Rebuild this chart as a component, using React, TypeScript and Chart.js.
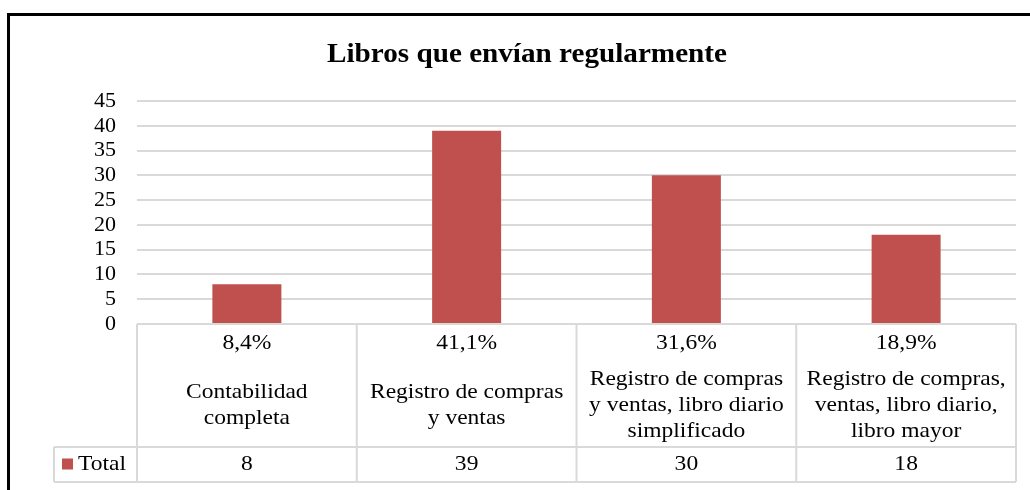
import React, { useEffect, useRef } from "react";
import { Chart, registerables } from "chart.js";

Chart.register(...registerables);

const title = "Libros que envían regularmente";
const seriesName = "Total";
const categoryLines: string[][] = [
  ["Contabilidad", "completa"],
  ["Registro de compras", "y ventas"],
  ["Registro de compras", "y ventas, libro diario", "simplificado"],
  ["Registro de compras,", "ventas, libro diario,", "libro mayor"],
];
const categories = categoryLines.map((l) => l.join(" "));
const values = [8, 39, 30, 18];
const percents = ["8,4%", "41,1%", "31,6%", "18,9%"];
const yMin = 0;
const yMax = 45;
const yStep = 5;

const BAR_COLOR = "#C0504D";
const GRID_COLOR = "#D9D9D9";
const FONT = "'Liberation Serif', 'Times New Roman', serif";

function drawText(ctx: CanvasRenderingContext2D, text: string, x: number, y: number, align: CanvasTextAlign, sx = 1.12) {
  ctx.save();
  ctx.translate(x, y);
  ctx.scale(sx, 1);
  ctx.textAlign = align;
  ctx.fillText(text, 0, 0);
  ctx.restore();
}

const tablePlugin = {
  id: "dataTable",
  afterDraw(chart: any) {
    const ctx: CanvasRenderingContext2D = chart.ctx;
    const area = chart.chartArea;
    const xs = chart.scales.x;
    const n = categories.length;
    const colW = (area.right - area.left) / n;
    const top = area.bottom;
    const rowDiv = top + 123;
    const bottom = top + 158;
    const legendLeft = 54;

    ctx.save();
    // frame
    ctx.fillStyle = "#000";
    ctx.fillRect(7, 13, 3, 490);
    ctx.fillRect(7, 13, 1030, 3);

    // title
    ctx.fillStyle = "#000";
    ctx.font = `bold 27px ${FONT}`;
    ctx.textBaseline = "alphabetic";
    drawText(ctx, title, 527, 62, "center", 1.08);

    // table lines
    ctx.strokeStyle = GRID_COLOR;
    ctx.lineWidth = 2;
    ctx.beginPath();
    ctx.moveTo(area.left, top);
    ctx.lineTo(area.right, top);
    for (let i = 0; i <= n; i++) {
      const x = area.left + i * colW;
      ctx.moveTo(x, top);
      ctx.lineTo(x, bottom);
    }
    ctx.moveTo(legendLeft, rowDiv);
    ctx.lineTo(area.right, rowDiv);
    ctx.moveTo(legendLeft, bottom);
    ctx.lineTo(area.right, bottom);
    ctx.moveTo(legendLeft, rowDiv);
    ctx.lineTo(legendLeft, bottom);
    ctx.stroke();

    // texts
    ctx.fillStyle = "#000";
    ctx.font = `21px ${FONT}`;
    ctx.textBaseline = "middle";
    const lineH = 26;
    for (let i = 0; i < n; i++) {
      const cx = xs.getPixelForValue(i);
      drawText(ctx, percents[i], cx, top + 19, "center");
      const lines = categoryLines[i];
      const cy = top + 81;
      const y0 = cy - ((lines.length - 1) * lineH) / 2;
      lines.forEach((ln, k) => drawText(ctx, ln, cx, y0 + k * lineH, "center"));
      drawText(ctx, String(values[i]), cx, (rowDiv + bottom) / 2, "center");
    }
    // legend key
    const ly = (rowDiv + bottom) / 2;
    ctx.fillStyle = BAR_COLOR;
    ctx.fillRect(62, ly - 6, 11, 11);
    ctx.fillStyle = "#000";
    drawText(ctx, seriesName, 78, ly, "left");
    ctx.restore();
  },
};

export default function App() {
  const ref = useRef<HTMLCanvasElement>(null);
  useEffect(() => {
    if (!ref.current) return;
    const chart = new Chart(ref.current, {
      type: "bar",
      data: {
        labels: categories,
        datasets: [
          {
            label: seriesName,
            data: values,
            backgroundColor: BAR_COLOR,
            borderWidth: 0,
            categoryPercentage: 1,
            barPercentage: 0.314,
          },
        ],
      },
      options: {
        animation: false,
        responsive: false,
        layout: { padding: { top: 101, bottom: 166, left: 0, right: 14 } },
        plugins: {
          legend: { display: false },
          title: { display: false },
          tooltip: { enabled: false },
        },
        scales: {
          x: { display: false },
          y: {
            min: yMin,
            max: yMax,
            afterFit(scale: any) {
              scale.width = 137;
            },
            grid: { color: GRID_COLOR, lineWidth: 2, drawTicks: false },
            border: { display: false },
            ticks: {
              stepSize: yStep,
              autoSkip: false,
              padding: 21,
              color: "#000",
              font: { family: FONT, size: 22 },
            },
          },
        },
      },
      plugins: [tablePlugin],
    });
    return () => chart.destroy();
  }, []);
  return (
    <div style={{ position: "absolute", left: 0, top: 0, width: 1030, height: 490, background: "#fff" }}>
      <canvas ref={ref} width={1030} height={490} />
    </div>
  );
}
